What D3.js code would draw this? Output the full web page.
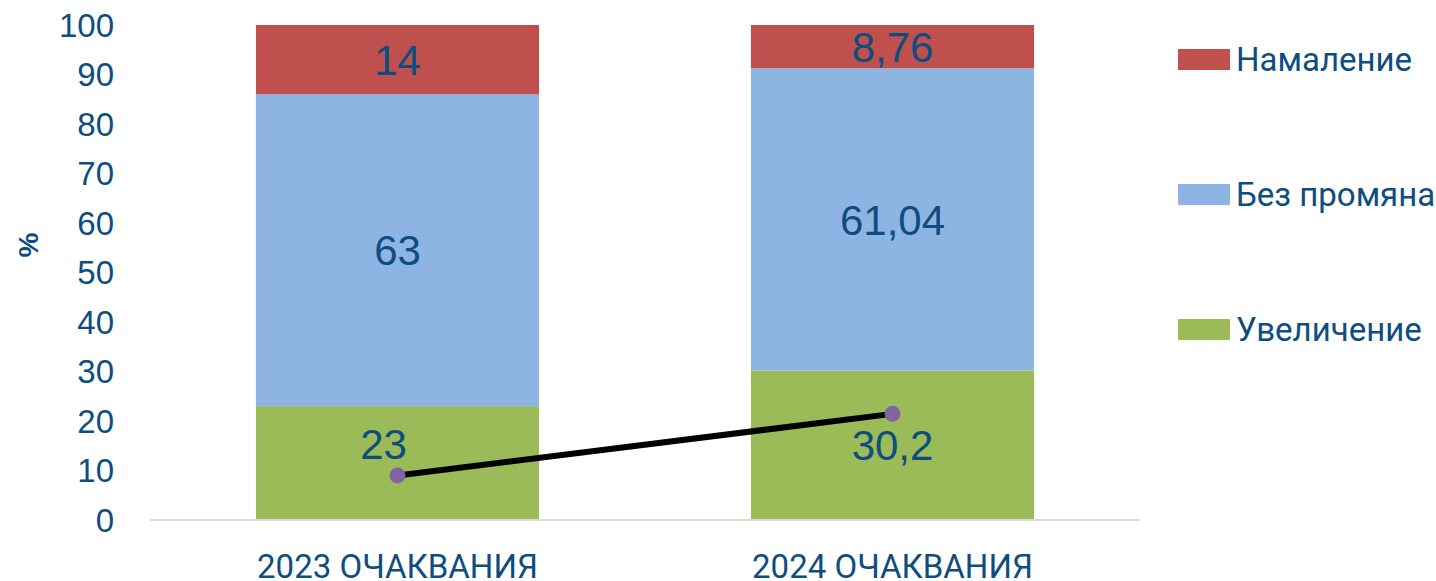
<!DOCTYPE html>
<html>
<head>
<meta charset="utf-8">
<script src="https://cdn.jsdelivr.net/npm/d3@7"></script>
<style>
  body { margin: 0; background: #fff; }
</style>
</head>
<body>
<div id="chart"></div>
<script>
// data
var categories = ["2023 ОЧАКВАНИЯ", "2024 ОЧАКВАНИЯ"];
var seriesNames = ["Увеличение", "Без промяна", "Намаление"];
var increase = [23, 30.2];
var noChange = [63, 61.04];
var decrease = [14, 8.76];
var balance = [9, 21.44];
var yTicks = [0, 10, 20, 30, 40, 50, 60, 70, 80, 90, 100];

var colors = ["#9BBB59", "#8EB4E3", "#C0504D"];
var textColor = "#0E4D7F";

var svgWidth = 1436, svgHeight = 581;
var svg = d3.select("#chart").append("svg")
    .attr("width", svgWidth)
    .attr("height", svgHeight);

var x = d3.scaleBand()
    .domain(categories)
    .range([150, 1140])
    .paddingInner(0.428)
    .paddingOuter(0.214);

var y = d3.scaleLinear()
    .domain([0, 100])
    .range([520, 25]);

// build stack table
var table = categories.map(function (c, i) {
    return { cat: c, "Увеличение": increase[i], "Без промяна": noChange[i], "Намаление": decrease[i] };
});
var stacked = d3.stack().keys(seriesNames)(table);

// bars
svg.append("g").selectAll("g")
    .data(stacked)
    .enter().append("g")
    .attr("fill", (d, i) => colors[i])
    .selectAll("rect")
    .data(d => d)
    .enter().append("rect")
    .attr("x", d => x(d.data.cat))
    .attr("y", d => y(d[1]))
    .attr("width", x.bandwidth())
    .attr("height", d => y(d[0]) - y(d[1]));

// axis line at bottom
svg.append("line")
    .attr("x1", 150).attr("x2", 1140)
    .attr("y1", y(0)).attr("y2", y(0))
    .attr("stroke", "#D9D9D9")
    .attr("stroke-width", 2);

// y tick labels
svg.append("g").selectAll("text")
    .data(yTicks)
    .enter().append("text")
    .attr("x", 114)
    .attr("y", d => y(d))
    .attr("dy", "0.36em")
    .attr("text-anchor", "end")
    .style("font-family", "'Liberation Sans', Arial, sans-serif")
    .style("font-size", "33px")
    .style("fill", textColor)
    .text(d => d);

// y axis title
svg.append("text")
    .attr("transform", "translate(38, 245) rotate(-90)")
    .attr("text-anchor", "middle")
    .style("font-family", "'Liberation Sans', Arial, sans-serif")
    .style("font-size", "28px")
    .style("font-weight", "bold")
    .style("fill", textColor)
    .text("%");

// category labels
svg.append("g").selectAll("text")
    .data(categories)
    .enter().append("text")
    .attr("x", d => x(d) + x.bandwidth() / 2)
    .attr("y", 578)
    .attr("text-anchor", "middle")
    .style("font-family", "Roboto, sans-serif")
    .style("font-size", "33px")
    .style("fill", textColor)
    .text(d => d);

// data labels (first green label nudged up to clear the line, as in source)
var fmt = v => String(v).replace(".", ",");
stacked.forEach(function (layer, si) {
    svg.append("g").selectAll("text")
        .data(layer)
        .enter().append("text")
        .attr("x", (d, i) => x(d.data.cat) + x.bandwidth() / 2 + (si === 0 && i === 0 ? -14 : 0))
        .attr("y", (d, i) => y((d[0] + d[1]) / 2) + (si === 0 && i === 0 ? -19 : 0))
        .attr("dy", "0.36em")
        .attr("text-anchor", "middle")
        .style("font-family", "'Liberation Sans', Arial, sans-serif")
        .style("font-size", "42px")
        .style("fill", textColor)
        .text(d => fmt(+(d[1] - d[0]).toFixed(2)));
});

// balance line
var line = d3.line()
    .x((d, i) => x(categories[i]) + x.bandwidth() / 2)
    .y(d => y(d));

svg.append("path")
    .datum(balance)
    .attr("d", line)
    .attr("fill", "none")
    .attr("stroke", "#000")
    .attr("stroke-width", 6);

svg.append("g").selectAll("circle")
    .data(balance)
    .enter().append("circle")
    .attr("cx", (d, i) => x(categories[i]) + x.bandwidth() / 2)
    .attr("cy", d => y(d))
    .attr("r", 8)
    .attr("fill", "#8064A2");

// legend (top to bottom: Намаление, Без промяна, Увеличение)
var legendItems = seriesNames.map((n, i) => ({ name: n, color: colors[i] })).reverse();
var legend = svg.append("g").selectAll("g")
    .data(legendItems)
    .enter().append("g")
    .attr("transform", (d, i) => `translate(1178, ${49 + i * 135})`);

legend.append("rect")
    .attr("width", 52)
    .attr("height", 21)
    .attr("fill", d => d.color);

legend.append("text")
    .attr("x", 58)
    .attr("y", 22)
    .style("font-family", "Roboto, sans-serif")
    .style("font-size", "33px")
    .style("fill", textColor)
    .text(d => d.name);
</script>
</body>
</html>
